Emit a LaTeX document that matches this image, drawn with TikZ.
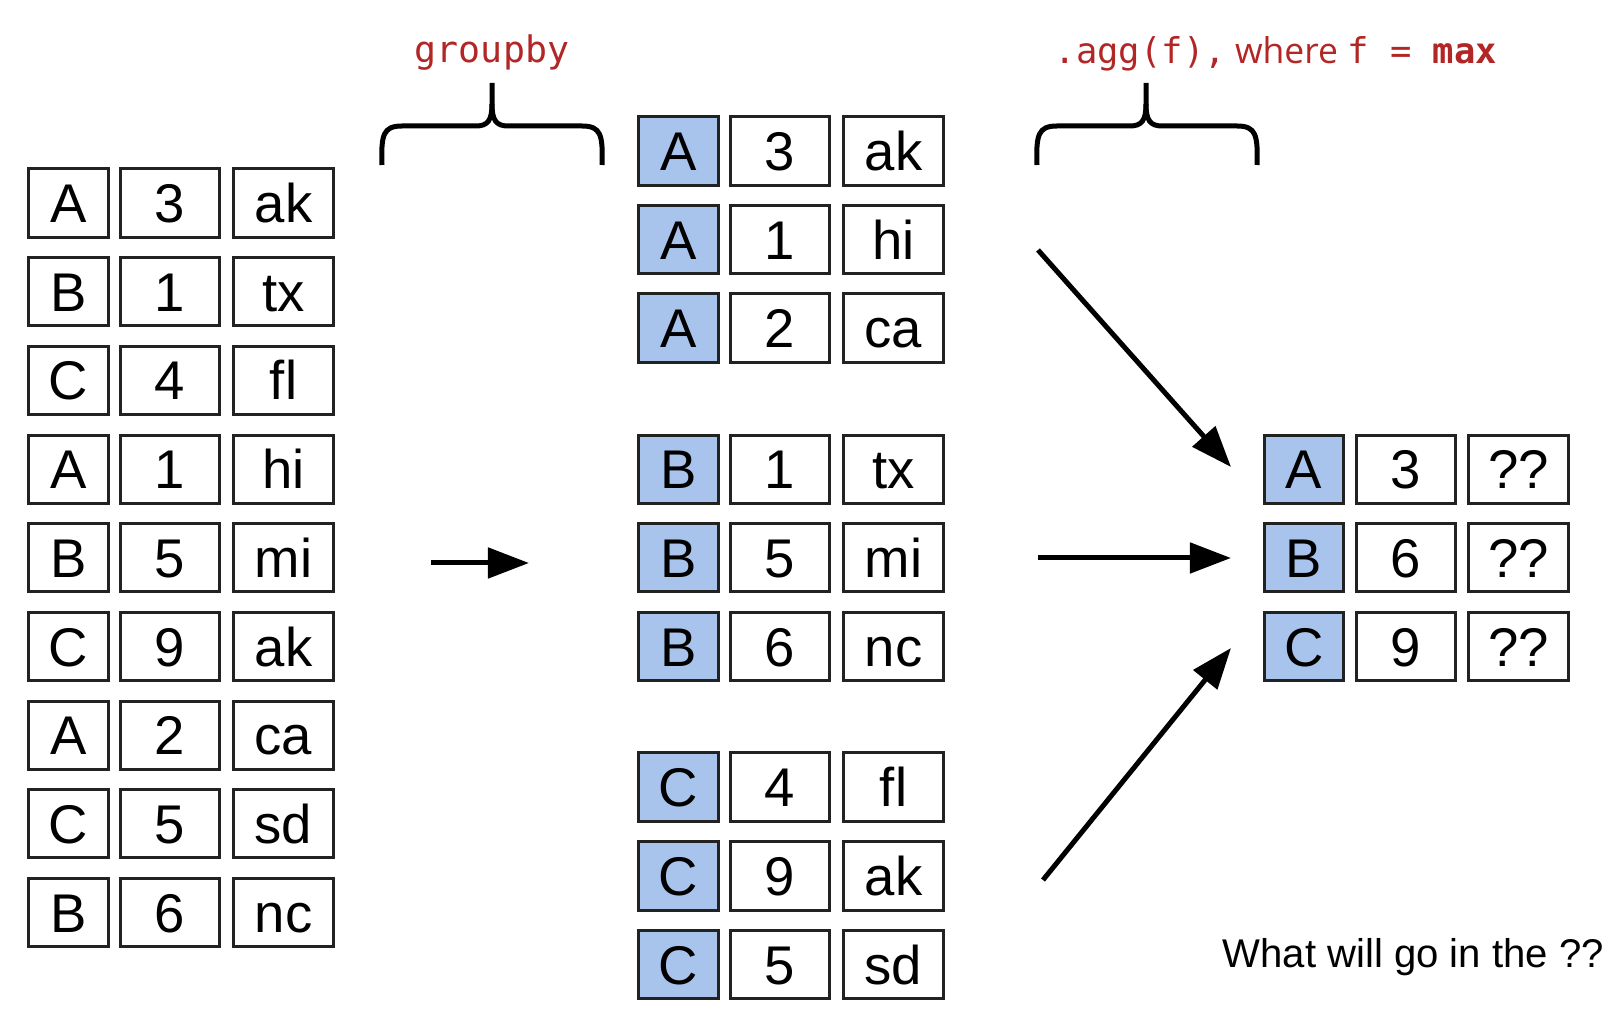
\documentclass[tikz,border=0pt]{standalone}
\usepackage{fontspec}
\setmainfont[Ligatures=NoCommon]{Liberation Sans}
\setmonofont{DejaVu Sans Mono}
\newfontfamily\wherefont{Open Sans}
\usetikzlibrary{arrows.meta}
\definecolor{keyblue}{RGB}{168,196,236}
\definecolor{codered}{RGB}{178,38,38}
\definecolor{cellline}{RGB}{34,34,34}

\begin{document}
\begin{tikzpicture}[x=0.01cm, y=-0.01cm,
    cell/.style={rectangle, draw=cellline, line width=0.03cm, minimum height=0.68cm,
      inner sep=0pt, text height=11.1pt, text depth=0pt, font=\fontsize{15.5}{18}\selectfont},
    keycell/.style={cell, minimum width=0.79cm},
    groupcell/.style={keycell, fill=keyblue},
    valcell/.style={cell, minimum width=0.995cm},
    flow/.style={line width=0.05cm, -{Triangle[length=0.41cm, width=0.30cm]}},
    brace/.style={line width=0.05cm},
    code/.style={text=codered, inner sep=0pt}]

  \useasboundingbox (0,0) rectangle (1608,1022);

  % source table
  \node[keycell] (s1k) at (68.5,203)   {A}; \node[valcell] (s1n) at (170,203)   {3}; \node[valcell] (s1t) at (283.5,203)   {ak};
  \node[keycell] (s2k) at (68.5,291.7) {B}; \node[valcell] (s2n) at (170,291.7) {1}; \node[valcell] (s2t) at (283.5,291.7) {tx};
  \node[keycell] (s3k) at (68.5,380.4) {C}; \node[valcell] (s3n) at (170,380.4) {4}; \node[valcell] (s3t) at (283.5,380.4) {fl};
  \node[keycell] (s4k) at (68.5,469.1) {A}; \node[valcell] (s4n) at (170,469.1) {1}; \node[valcell] (s4t) at (283.5,469.1) {hi};
  \node[keycell] (s5k) at (68.5,557.8) {B}; \node[valcell] (s5n) at (170,557.8) {5}; \node[valcell] (s5t) at (283.5,557.8) {mi};
  \node[keycell] (s6k) at (68.5,646.5) {C}; \node[valcell] (s6n) at (170,646.5) {9}; \node[valcell] (s6t) at (283.5,646.5) {ak};
  \node[keycell] (s7k) at (68.5,735.2) {A}; \node[valcell] (s7n) at (170,735.2) {2}; \node[valcell] (s7t) at (283.5,735.2) {ca};
  \node[keycell] (s8k) at (68.5,823.9) {C}; \node[valcell] (s8n) at (170,823.9) {5}; \node[valcell] (s8t) at (283.5,823.9) {sd};
  \node[keycell] (s9k) at (68.5,912.6) {B}; \node[valcell] (s9n) at (170,912.6) {6}; \node[valcell] (s9t) at (283.5,912.6) {nc};

  % groups
  \node[groupcell] (a1k) at (678.5,151)   {A}; \node[valcell] (a1n) at (780,151)   {3}; \node[valcell] (a1t) at (893.5,151)   {ak};
  \node[groupcell] (a2k) at (678.5,239.5) {A}; \node[valcell] (a2n) at (780,239.5) {1}; \node[valcell] (a2t) at (893.5,239.5) {hi};
  \node[groupcell] (a3k) at (678.5,328)   {A}; \node[valcell] (a3n) at (780,328)   {2}; \node[valcell] (a3t) at (893.5,328)   {ca};

  \node[groupcell] (b1k) at (678.5,469.1) {B}; \node[valcell] (b1n) at (780,469.1) {1}; \node[valcell] (b1t) at (893.5,469.1) {tx};
  \node[groupcell] (b2k) at (678.5,557.8) {B}; \node[valcell] (b2n) at (780,557.8) {5}; \node[valcell] (b2t) at (893.5,557.8) {mi};
  \node[groupcell] (b3k) at (678.5,646.5) {B}; \node[valcell] (b3n) at (780,646.5) {6}; \node[valcell] (b3t) at (893.5,646.5) {nc};

  \node[groupcell] (c1k) at (678.5,787)   {C}; \node[valcell] (c1n) at (780,787)   {4}; \node[valcell] (c1t) at (893.5,787)   {fl};
  \node[groupcell] (c2k) at (678.5,876)   {C}; \node[valcell] (c2n) at (780,876)   {9}; \node[valcell] (c2t) at (893.5,876)   {ak};
  \node[groupcell] (c3k) at (678.5,964.5) {C}; \node[valcell] (c3n) at (780,964.5) {5}; \node[valcell] (c3t) at (893.5,964.5) {sd};

  % result
  \node[groupcell] (rAk) at (1304,469.1) {A}; \node[valcell] (rAn) at (1406,469.1) {3}; \node[valcell] (rAt) at (1518.5,469.1) {??};
  \node[groupcell] (rBk) at (1304,557.8) {B}; \node[valcell] (rBn) at (1406,557.8) {6}; \node[valcell] (rBt) at (1518.5,557.8) {??};
  \node[groupcell] (rCk) at (1304,646.5) {C}; \node[valcell] (rCn) at (1406,646.5) {9}; \node[valcell] (rCt) at (1518.5,646.5) {??};

  % labels
  \node[code, anchor=base, font=\fontsize{10.4}{12}\ttfamily] (grouplbl) at (492,63) {groupby};
  \node[code, anchor=base west, font=\fontsize{10.1}{12}\wherefont] (agglbl) at (1054,64)
    {{\ttfamily .agg(f),} where {\ttfamily f = \textbf{max}}};
  \node[anchor=base west, inner sep=0pt, font=\fontsize{11.4}{13}\selectfont] (question) at (1222,968)
    {What will go in the ??};

  % braces
  \draw[brace] (382,165) .. controls (381,135) and (383,126) .. (402,126) -- (476,126)
    .. controls (488,126) and (492,120) .. (492,104) -- (492,83);
  \draw[brace] (602,165) .. controls (603,135) and (601,126) .. (582,126) -- (508,126)
    .. controls (496,126) and (492,120) .. (492,104);

  \draw[brace] (1037,165) .. controls (1036,135) and (1038,126) .. (1057,126) -- (1130,126)
    .. controls (1142,126) and (1146,120) .. (1146,104) -- (1146,83);
  \draw[brace] (1257,165) .. controls (1258,135) and (1256,126) .. (1237,126) -- (1162,126)
    .. controls (1150,126) and (1146,120) .. (1146,104);

  % arrows
  \coordinate (splitfrom) at (431,563);
  \coordinate (splitto)   at (529,563);
  \coordinate (afrom) at (1038,250);
  \coordinate (ato)   at (1231,467);
  \coordinate (bfrom) at (1038,558);
  \coordinate (bto)   at (1231,558);
  \coordinate (cfrom) at (1043,880);
  \coordinate (cto)   at (1231,648);

  \draw[flow] (splitfrom) -- (splitto);
  \draw[flow] (afrom) -- (ato);
  \draw[flow] (bfrom) -- (bto);
  \draw[flow] (cfrom) -- (cto);

\end{tikzpicture}
\end{document}
